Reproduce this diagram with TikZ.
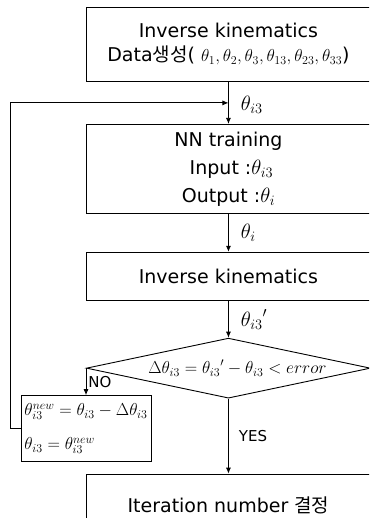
\documentclass[tikz,border=0pt]{standalone}
\usepackage{fontspec}
\setmainfont{DejaVu Sans}
\newfontfamily\krfont{Noto Sans CJK KR}
\usetikzlibrary{shapes.geometric,arrows.meta,positioning}

\begin{document}
\begin{tikzpicture}[x=1pt, y=-1pt,
  node distance=40pt,
  blk/.style={rectangle, draw, line width=0.9pt, minimum width=284pt, inner sep=0pt,
    align=center, font=\fontsize{19}{28}\selectfont},
  dec/.style={diamond, draw, line width=0.9pt, aspect=4.7, minimum width=284pt,
    minimum height=60pt, inner sep=0pt, font=\fontsize{18}{20}\selectfont},
  upd/.style={rectangle, draw, line width=0.9pt, minimum width=130pt, minimum height=66pt,
    inner sep=2pt, align=left, font=\fontsize{17}{34}\selectfont},
  arr/.style={-{Latex[length=6pt,width=5pt]}, line width=0.8pt},
  lbl/.style={font=\fontsize{22}{24}\selectfont, right, inner sep=0pt}]
\useasboundingbox (0,0) rectangle (369,518);
\clip (0,0) rectangle (369,518);

\node[blk, minimum height=74pt, anchor=north west] (gen) at (86,7)
  {Inverse kinematics\\[-4pt] Data{\krfont 생성}( {\fontsize{18}{20}\selectfont$\theta_1,\theta_2,\theta_3,\theta_{13},\theta_{23},\theta_{33}$})};
\node[blk, minimum height=89pt, below=42pt of gen] (train)
  {NN training\\ \ Input :{\fontsize{21}{24}\selectfont$\theta_{i3}$}\\ Output :{\fontsize{21}{24}\selectfont$\theta_i$}};
\node[blk, minimum height=48pt, below=38pt of train] (ik) {Inverse kinematics};
\node[dec, below=37pt of ik] (chk) {\quad$\Delta\theta_{i3}={\theta_{i3}}'-\theta_{i3}<error$};
\node[upd, below=27pt of chk.west] (new)
  {$\theta_{i3}^{new}=\theta_{i3}-\Delta\theta_{i3}$\\ $\theta_{i3}=\theta_{i3}^{new}$};
\node[blk, minimum height=62pt, below=75pt of chk] (iter) {Iteration number {\krfont 결정}};

% main flow
\path (gen.south) -- (train.north) coordinate[midway] (fb);
\draw[arr] (gen) -- node[lbl, xshift=12pt, yshift=-2pt] (l1) {$\theta_{i3}$} (train);
\draw[arr] (train) -- node[lbl, xshift=12pt] (l2) {$\theta_i$} (ik);
\draw[arr] (ik) -- node[lbl, xshift=12pt] (l3) {${\theta_{i3}}'$} (chk);
\draw[arr] (chk.south) -- node[lbl, xshift=10pt, font=\fontsize{15}{18}\selectfont] (l4) {YES} (iter);
% loop back
\draw[arr] (chk.west) -- node[lbl, xshift=2pt, font=\fontsize{15}{18}\selectfont] (l5) {NO} (new);
\draw[arr] (new.west) -- ++(-10,0) |- (fb);
\end{tikzpicture}
\end{document}
